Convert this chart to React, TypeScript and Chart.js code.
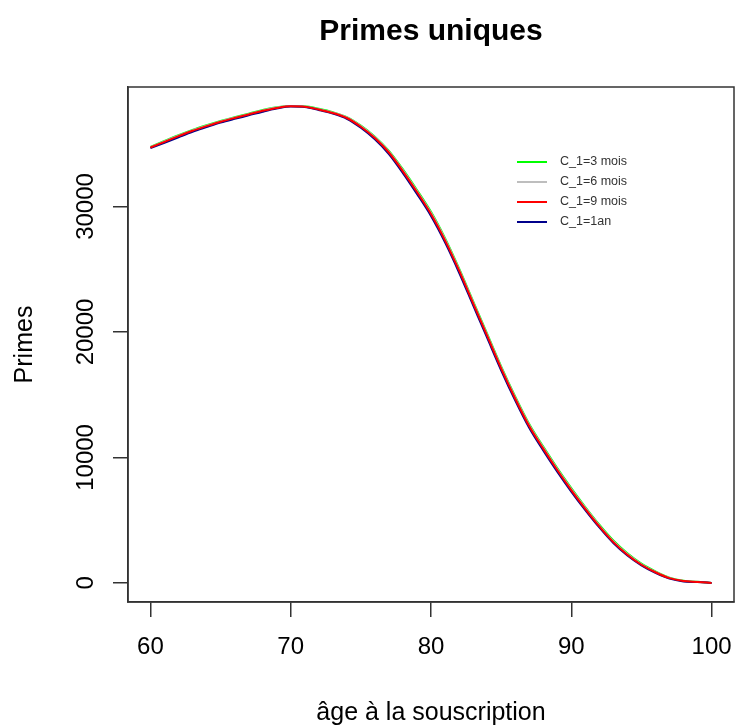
import React, { useEffect, useRef } from "react";
import { Chart, registerables } from "chart.js";

Chart.register(...registerables);

const ages = [60, 61, 62, 63, 64, 65, 66, 67, 68, 69, 70, 71, 72, 73, 74, 75, 76, 77, 78, 79, 80, 81, 82, 83, 84, 85, 86, 87, 88, 89, 90, 91, 92, 93, 94, 95, 96, 97, 98, 99, 100];

const primes3mois = [34750, 35220, 35680, 36100, 36470, 36810, 37110, 37390, 37680, 37900, 38010, 37990, 37780, 37510, 37120, 36440, 35560, 34430, 32950, 31310, 29570, 27470, 25060, 22460, 19860, 17260, 14860, 12660, 10860, 9160, 7560, 6050, 4640, 3380, 2360, 1540, 920, 420, 170, 90, 0];
const primes6mois = [34720, 35180, 35640, 36060, 36430, 36780, 37080, 37360, 37650, 37880, 38000, 37970, 37750, 37480, 37090, 36400, 35510, 34370, 32880, 31230, 29490, 27390, 24980, 22380, 19780, 17180, 14780, 12580, 10780, 9080, 7480, 5980, 4570, 3310, 2300, 1490, 880, 400, 160, 85, 0];
const primes9mois = [34700, 35150, 35600, 36030, 36400, 36750, 37050, 37330, 37620, 37850, 37980, 37950, 37720, 37450, 37050, 36350, 35450, 34300, 32800, 31150, 29400, 27300, 24900, 22300, 19700, 17100, 14700, 12500, 10700, 9000, 7400, 5900, 4500, 3250, 2250, 1450, 850, 380, 150, 80, 0];
const primes1an = [34650, 35080, 35520, 35950, 36320, 36680, 36980, 37260, 37550, 37800, 37960, 37930, 37690, 37400, 36990, 36270, 35350, 34180, 32660, 31000, 29240, 27140, 24740, 22140, 19540, 16950, 14550, 12360, 10560, 8870, 7280, 5800, 4420, 3180, 2190, 1400, 800, 340, 120, 70, 0];

const seriesLabels = ["C_1=3 mois", "C_1=6 mois", "C_1=9 mois", "C_1=1an"];
const seriesColors = ["#00ff00", "#bebebe", "#ff0000", "#00008b"];
const seriesValues = [primes3mois, primes6mois, primes9mois, primes1an];
const drawOrder = [3, 2, 0, 1];

const xTicks = [60, 70, 80, 90, 100];
const yTicks = [0, 10000, 20000, 30000];

const FONT = "'Liberation Sans', Arial, sans-serif";

const boxPlugin = {
  id: "rbox",
  afterDatasetsDraw(chart: any) {
    const { ctx, chartArea } = chart;
    ctx.save();
    ctx.strokeStyle = "#333";
    ctx.lineWidth = 1.5;
    ctx.strokeRect(chartArea.left, chartArea.top, chartArea.right - chartArea.left, chartArea.bottom - chartArea.top);
    ctx.restore();
  },
};

const legendPlugin = {
  id: "rlegend",
  afterDraw(chart: any) {
    const { ctx } = chart;
    ctx.save();
    seriesLabels.forEach((lab, i) => {
      const y = 162 + i * 20;
      ctx.strokeStyle = seriesColors[i];
      ctx.lineWidth = 2;
      ctx.beginPath();
      ctx.moveTo(517, y);
      ctx.lineTo(547, y);
      ctx.stroke();
      ctx.fillStyle = "#333";
      ctx.font = `12.5px ${FONT}`;
      ctx.textBaseline = "middle";
      ctx.textAlign = "left";
      ctx.fillText(lab, 560, y);
    });
    ctx.restore();
  },
};

export default function App() {
  const ref = useRef<HTMLCanvasElement | null>(null);
  useEffect(() => {
    if (!ref.current) return;
    const datasets = seriesValues.map((vals, i) => ({
      label: seriesLabels[i],
      data: ages.map((a, j) => ({ x: a, y: vals[j] })),
      borderColor: seriesColors[i],
      backgroundColor: seriesColors[i],
      borderWidth: 2,
      pointRadius: 0,
      cubicInterpolationMode: "monotone",
      fill: false,
      order: drawOrder[i],
    }));
    const chart = new Chart(ref.current, {
      type: "line",
      data: { datasets },
      options: {
        animation: false,
        responsive: false,
        events: [],
        layout: { padding: { left: 0, right: 2, top: 0, bottom: 0 } },
        plugins: {
          legend: { display: false },
          tooltip: { enabled: false },
          title: {
            display: true,
            text: "Primes uniques",
            fullSize: false,
            color: "#000",
            font: { family: FONT, size: 30, weight: "bold" },
            padding: { top: 14, bottom: 37 },
          },
        },
        scales: {
          x: {
            type: "linear",
            min: 58.4,
            max: 101.6,
            afterBuildTicks: (s: any) => {
              s.ticks = xTicks.map((v) => ({ value: v }));
            },
            afterFit: (s: any) => {
              s.height = 123;
              s.paddingLeft = 0;
              s.paddingRight = 0;
            },
            grid: { drawOnChartArea: false, drawTicks: true, tickLength: 15, color: "#333", lineWidth: 1.5 },
            border: { display: true, color: "#333", width: 1.5 },
            ticks: {
              color: "#000",
              font: { family: FONT, size: 24 },
              padding: 16,
              minRotation: 0,
              maxRotation: 0,
              callback: (v: any) => String(v),
            },
            title: {
              display: true,
              text: "âge à la souscription",
              color: "#000",
              font: { family: FONT, size: 25, lineHeight: 1.0 },
              padding: { top: 0, bottom: -1 },
            },
          },
          y: {
            type: "linear",
            min: -1520,
            max: 39520,
            afterBuildTicks: (s: any) => {
              s.ticks = yTicks.map((v) => ({ value: v }));
            },
            afterFit: (s: any) => {
              s.width = 128;
              s.paddingTop = 0;
              s.paddingBottom = 0;
            },
            grid: { drawOnChartArea: false, drawTicks: true, tickLength: 15, color: "#333", lineWidth: 1.5 },
            border: { display: true, color: "#333", width: 1.5 },
            ticks: {
              color: "#000",
              font: { family: FONT, size: 24 },
              padding: -7,
              minRotation: 90,
              maxRotation: 90,
              crossAlign: "center",
              callback: (v: any) => String(v),
            },
            title: {
              display: true,
              text: "Primes",
              color: "#000",
              font: { family: FONT, size: 25 },
              padding: { top: 10, bottom: 0 },
            },
          },
        },
      } as any,
      plugins: [boxPlugin, legendPlugin],
    });
    return () => chart.destroy();
  }, []);
  return (
    <div style={{ position: "fixed", left: 0, top: 0, width: 736, height: 725, background: "#fff" }}>
      <canvas ref={ref} width={736} height={725} style={{ display: "block", width: 736, height: 725 }} />
    </div>
  );
}
